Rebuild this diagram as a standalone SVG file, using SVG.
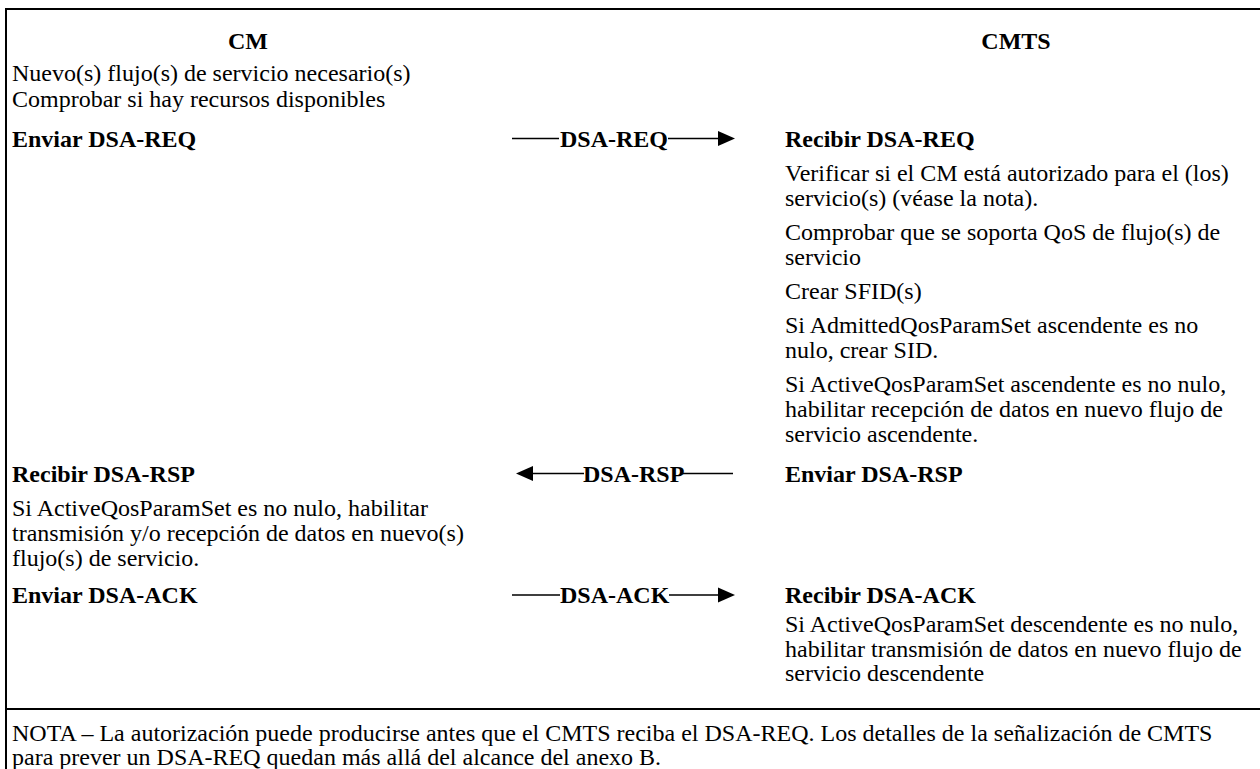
<svg xmlns="http://www.w3.org/2000/svg" width="1260" height="769" viewBox="0 0 1260 769">
  <style>
    text { font-family: "Liberation Serif", "Times New Roman", serif; font-size: 24px; fill: #000; }
    .b { font-weight: bold; }
    .hd { font-weight: bold; text-anchor: middle; }
    .frame { fill: none; stroke: #000; stroke-width: 2; }
    .msg { stroke: #000; stroke-width: 1.3; fill: none; }
    .head { fill: #000; stroke: none; }
  </style>
  <defs>
    <polygon id="tri-r" points="0,-7.5 17,0 0,7.5"/>
    <polygon id="tri-l" points="17,-7.5 0,0 17,7.5"/>
  </defs>

  <rect width="1260" height="769" fill="#fff"/>

  <!-- table frame and note separator -->
  <g id="frame">
    <path class="frame" d="M6,769 V9 H1260"/>
    <path class="frame" d="M6,709 H1260"/>
  </g>

  <!-- column headers -->
  <g id="cm-header"><text class="hd" x="248" y="49">CM</text></g>
  <g id="cmts-header"><text class="hd" x="1016" y="49">CMTS</text></g>

  <!-- CM side actions -->
  <g id="cm-prepare">
    <text x="12" y="81">Nuevo(s) flujo(s) de servicio necesario(s)</text>
    <text x="12" y="107">Comprobar si hay recursos disponibles</text>
  </g>
  <g id="cm-send-req"><text class="b" x="12" y="146.5">Enviar DSA-REQ</text></g>
  <g id="cm-recv-rsp">
    <text class="b" x="12" y="481.5">Recibir DSA-RSP</text>
    <text x="12" y="515.5">Si ActiveQosParamSet es no nulo, habilitar</text>
    <text x="12" y="540.5">transmisión y/o recepción de datos en nuevo(s)</text>
    <text x="12" y="565.5">flujo(s) de servicio.</text>
  </g>
  <g id="cm-send-ack"><text class="b" x="12" y="603">Enviar DSA-ACK</text></g>

  <!-- CMTS side actions -->
  <g id="cmts-recv-req">
    <text class="b" x="785" y="146.5">Recibir DSA-REQ</text>
    <text x="785" y="180.5">Verificar si el CM está autorizado para el (los)</text>
    <text x="785" y="205.5">servicio(s) (véase la nota).</text>
    <text x="785" y="239.5">Comprobar que se soporta QoS de flujo(s) de</text>
    <text x="785" y="264.5">servicio</text>
    <text x="785" y="298.5">Crear SFID(s)</text>
    <text x="785" y="332.5">Si AdmittedQosParamSet ascendente es no</text>
    <text x="785" y="357.5">nulo, crear SID.</text>
    <text x="785" y="391.5">Si ActiveQosParamSet ascendente es no nulo,</text>
    <text x="785" y="416.5">habilitar recepción de datos en nuevo flujo de</text>
    <text x="785" y="441.5">servicio ascendente.</text>
  </g>
  <g id="cmts-send-rsp"><text class="b" x="785" y="481.5">Enviar DSA-RSP</text></g>
  <g id="cmts-recv-ack">
    <text class="b" x="785" y="603">Recibir DSA-ACK</text>
    <text x="785" y="632">Si ActiveQosParamSet descendente es no nulo,</text>
    <text x="785" y="656.5">habilitar transmisión de datos en nuevo flujo de</text>
    <text x="785" y="681">servicio descendente</text>
  </g>

  <!-- messages between CM and CMTS -->
  <g id="connectors">
    <g id="msg-dsa-req">
      <path class="msg" d="M512,138.5 H559 M668,138.5 H719"/>
      <use href="#tri-r" class="head" x="718" y="138.5"/>
      <text class="b" x="560" y="146.5">DSA-REQ</text>
    </g>
    <g id="msg-dsa-rsp">
      <path class="msg" d="M532,473.5 H584 M683,473.5 H733"/>
      <use href="#tri-l" class="head" x="516" y="473.5"/>
      <text class="b" x="583" y="481.5">DSA-RSP</text>
    </g>
    <g id="msg-dsa-ack">
      <path class="msg" d="M512,595 H560 M669,595 H719"/>
      <use href="#tri-r" class="head" x="718" y="595"/>
      <text class="b" x="560" y="603">DSA-ACK</text>
    </g>
  </g>

  <!-- note row -->
  <g id="note">
    <text x="12" y="741">NOTA – La autorización puede producirse antes que el CMTS reciba el DSA-REQ. Los detalles de la señalización de CMTS</text>
    <text x="12" y="765">para prever un DSA-REQ quedan más allá del alcance del anexo B.</text>
  </g>
</svg>
